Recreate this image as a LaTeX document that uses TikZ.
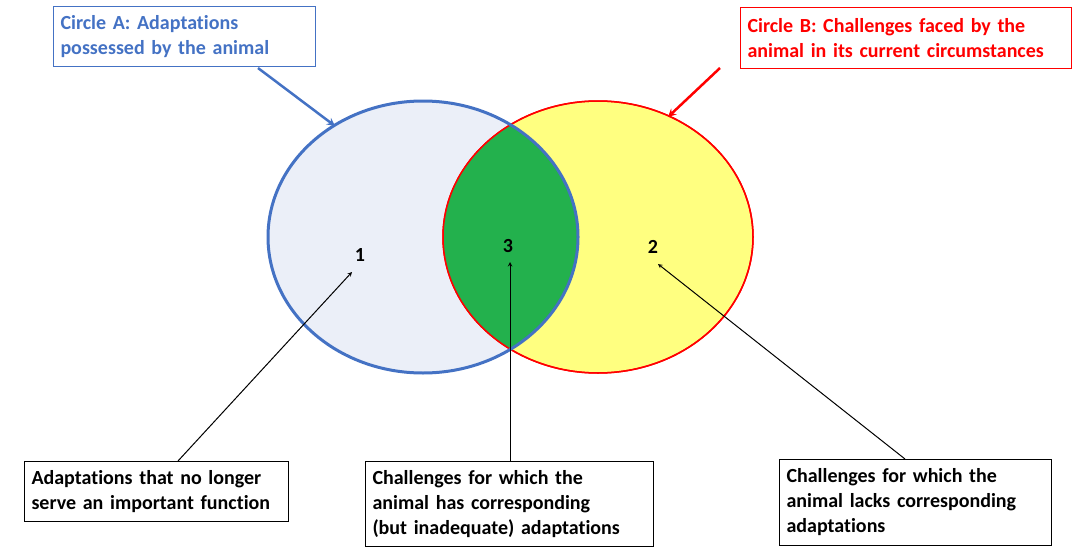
\documentclass[tikz,border=0pt]{standalone}
\usepackage{fontspec}
\setmainfont{Carlito}[Ligatures={NoCommon}]
\definecolor{ablue}{HTML}{4472C4}
\definecolor{afill}{HTML}{EBEFF8}
\definecolor{byel}{HTML}{FFFF80}
\definecolor{green3}{HTML}{23B14D}
\begin{document}
\begin{tikzpicture}[x=1pt,y=-1pt,
  box/.style={draw,line width=1pt,anchor=north west,align=left,inner xsep=7pt,inner ysep=4pt,font=\fontsize{20}{25}\selectfont\bfseries},
  num/.style={font=\fontsize{20}{20}\selectfont\bfseries}]
\useasboundingbox (0,0) rectangle (1084,554);
\fill[afill] (423,237) ellipse [x radius=155,y radius=136];
\filldraw[fill=byel,draw=red,line width=1.5pt] (598,237) ellipse [x radius=155,y radius=136];
\begin{scope}
\clip (423,237) ellipse [x radius=155,y radius=136];
\fill[green3] (598,237) ellipse [x radius=155,y radius=136];
\end{scope}
\draw[red,line width=1.5pt] (598,237) ellipse [x radius=155,y radius=136];
\draw[ablue,line width=3pt] (423,237) ellipse [x radius=155,y radius=136];
\node[num] (n1) at (360,255) {1};
\node[num] (n3) at (508,246) {3};
\node[num] (n2) at (653,247) {2};
\node[box,draw=ablue,text=ablue,text width=248pt,minimum height=60pt] (ba) at (53,6) {Circle A: Adaptations\\possessed by the animal};
\node[box,draw=red,text=red,text width=317pt,minimum height=61pt] (bb) at (740,7) {Circle B: Challenges faced by the\\animal in its current circumstances};
\node[box,text width=250pt,minimum height=60pt] (b1) at (24,461) {Adaptations that no longer\\serve an important function};
\node[box,text width=274pt,minimum height=85pt] (b3) at (365,461) {Challenges for which the\\animal has corresponding\\(but inadequate) adaptations};
\node[box,text width=258pt,minimum height=86pt] (b2) at (779,459) {Challenges for which the\\animal lacks corresponding\\adaptations};
\coordinate (ta) at (335,126);
\coordinate (tb) at (668,117);
\draw[ablue,line width=2.5pt,-stealth] (258,68) -- (ta);
\draw[red,line width=2.5pt,-stealth] (720,68) -- (tb);
\draw[-stealth,line width=1pt] (178,461) -- (352,272);
\draw[-stealth,line width=1pt] (510,461) -- (510,262);
\draw[-stealth,line width=1pt] (905,459) -- (658,264);
\end{tikzpicture}
\end{document}
